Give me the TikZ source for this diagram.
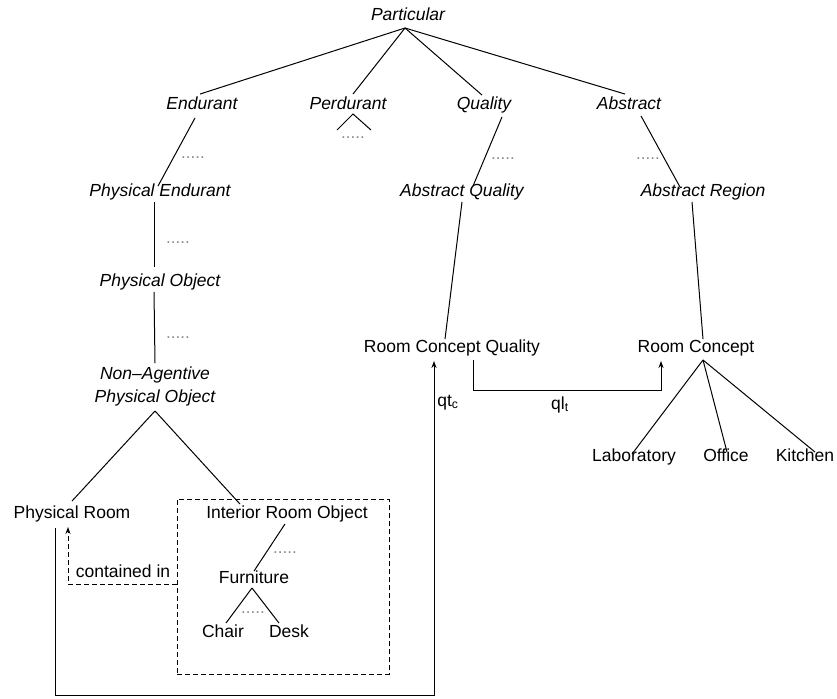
\documentclass[tikz,border=0pt]{standalone}
\usepackage{fontspec}
\setmainfont{Liberation Sans}
\usetikzlibrary{arrows.meta}
\begin{document}
\begin{tikzpicture}[x=1pt,y=-1pt,
  every node/.style={inner xsep=1pt,inner ysep=3pt,font=\fontsize{17.5}{23}\selectfont,text height=12pt,text depth=3.5pt},
  cat/.style={font=\fontsize{17.5}{23}\selectfont\itshape},
  link/.style={line width=1pt},
  rel/.style={line width=1pt,-{Stealth[length=7pt,width=5pt]}},
  dashline/.style={dash pattern=on 5pt off 3pt},
  dots/.style={anchor=base,text=black!45,font=\fontsize{17}{17}\selectfont,text height=,text depth=,inner sep=0pt},
  lab/.style={font=\fontsize{17.5}{20}\selectfont}]
\useasboundingbox (0,0) rectangle (837,698);
% nodes
\node[cat] (part) at (408,16) {Particular};
\node[cat] (end) at (202,105) {Endurant};
\node[cat] (perd) at (348,105) {Perdurant};
\node[cat] (qual) at (484,105) {Quality};
\node[cat] (abs) at (629,105) {Abstract};
\node[cat] (pe) at (160,192) {Physical Endurant};
\node[cat] (aq) at (462,192) {Abstract Quality};
\node[cat] (ar) at (703,192) {Abstract Region};
\node[cat] (po) at (160,282) {Physical Object};
\node[cat,align=center,text height=,text depth=] (napo) at (155,386) {Non–Agentive\\Physical Object};
\node (pr) at (72,514) {Physical Room};
\node (iro) at (287,514) {Interior Room Object};
\node (furn) at (254,579) {Furniture};
\node (chair) at (223,633) {Chair};
\node (desk) at (289,633) {Desk};
\node (rcq) at (452,348) {Room Concept Quality};
\node (rc) at (696,348) {Room Concept};
\node (labo) at (634,457) {Laboratory};
\node (off) at (726,457) {Office};
\node (kit) at (805,457) {Kitchen};
\node[draw,dashline,line width=1pt,minimum width=212pt,minimum height=175pt,text height=,text depth=,inner sep=0pt] (box) at (283,586.5) {};
% dots
\node[dots] (d1) at (193,158) {.....};
\node[dots] (d2) at (353,138) {.....};
\node[dots] (d3) at (178,243) {.....};
\node[dots] (d4) at (178,338) {.....};
\node[dots] (d5) at (503,159) {.....};
\node[dots] (d6) at (648,159) {.....};
\node[dots] (d7) at (285,553) {.....};
\node[dots] (d8) at (253,613) {.....};
% helper coordinates
\coordinate (ptop) at (405,28);
\coordinate (pl) at (337,130);
\coordinate (prr) at (371,130);
\coordinate (papex) at (353,114);
\coordinate (napex) at (155,411);
\coordinate (fapex) at (252,588);
\coordinate (rapex) at (703,360);
% tree links
\draw[link] (ptop) -- ([xshift=-2pt]end.north);
\draw[link] (ptop) -- ([xshift=5pt]perd.north);
\draw[link] (ptop) -- ([xshift=-2pt,yshift=-1pt]qual.north);
\draw[link] (ptop) -- ([xshift=-4pt]abs.north);
\draw[link] (pl) -- (papex) -- (prr);
\draw[link] ([xshift=-7pt,yshift=-2pt]end.south) -- ([xshift=-2pt,yshift=-5pt]pe.north);
\draw[link] ([xshift=-6pt,yshift=1pt]pe.south) -- ([xshift=-6pt,yshift=4pt]po.north);
\draw[link] ([xshift=-6pt,yshift=1pt]po.south) -- (napo.north);
\draw[link] (napex) -- ([yshift=2pt]pr.north);
\draw[link] (napex) -- ([xshift=-47pt,yshift=-1pt]iro.north);
\draw[link] ([xshift=-2pt,yshift=1pt]iro.south) -- ([yshift=-3pt]furn.north);
\draw[link] (fapex) -- ([xshift=3pt,yshift=-1pt]chair.north);
\draw[link] (fapex) -- ([xshift=-10pt,yshift=-1pt]desk.north);
\draw[link] ([xshift=18pt,yshift=-1pt]qual.south) -- ([xshift=11pt,yshift=-5pt]aq.north);
\draw[link] ([xshift=12pt]abs.south) -- ([xshift=-23pt,yshift=-6pt]ar.north);
\draw[link] ([yshift=1pt]aq.south) -- ([xshift=-7pt,yshift=-2pt]rcq.north);
\draw[link] ([xshift=-11pt,yshift=1pt]ar.south) -- ([xshift=7pt,yshift=-2pt]rc.north);
\draw[link] (rapex) -- ([xshift=-2pt,yshift=-8pt]labo.north);
\draw[link] (rapex) -- ([xshift=1pt,yshift=-6pt]off.north);
\draw[link] (rapex) -- ([xshift=10pt,yshift=-6pt]kit.north);
% relations
\draw[rel] ([xshift=-17pt,yshift=-3pt]pr.south) -- (55,695) -- (434,695) -- ([xshift=-18pt,yshift=-2pt]rcq.south);
\node[lab] (qtc) at (448,402) {qt\textsubscript{c}};
\draw[rel] ([xshift=21pt,yshift=-1pt]rcq.south) -- (473,390) -- (661,390) -- ([xshift=-35pt,yshift=-2pt]rc.south);
\node[lab] (qlt) at (560,405) {ql\textsubscript{t}};
\draw[rel,dashline] ([yshift=2.5pt]box.west) -- (68,584) -- ([xshift=-4pt,yshift=-2pt]pr.south);
\node[lab] (cin) at (123,573) {contained in};
\end{tikzpicture}
\end{document}
